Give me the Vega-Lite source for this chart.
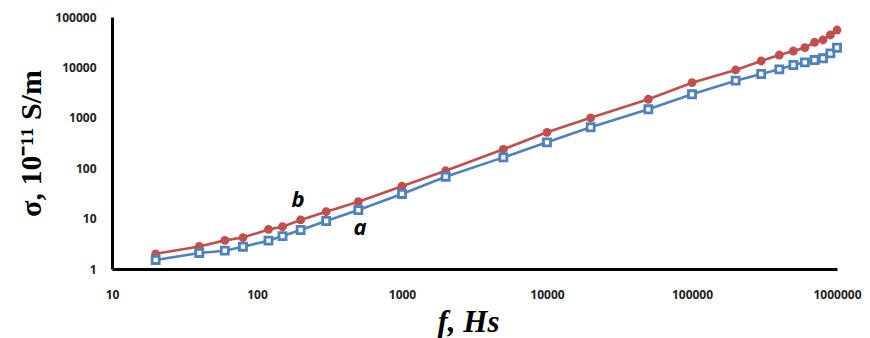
{
  "$schema": "https://vega.github.io/schema/vega-lite/v6.json",
  "width": 725,
  "height": 252,
  "autosize": "none",
  "padding": {"left": 112, "top": 17, "right": 33, "bottom": 69},
  "background": "white",
  "config": {"view": {"stroke": null}},
  "datasets": {
    "pts": [
      {"f": 20, "s": 2.0, "series": "b"}, {"f": 40, "s": 2.8, "series": "b"}, {"f": 60, "s": 3.7, "series": "b"}, {"f": 80, "s": 4.2, "series": "b"},
      {"f": 120, "s": 6.1, "series": "b"}, {"f": 150, "s": 6.9, "series": "b"}, {"f": 200, "s": 9.4, "series": "b"}, {"f": 300, "s": 13.7, "series": "b"},
      {"f": 500, "s": 21.6, "series": "b"}, {"f": 1000, "s": 44, "series": "b"}, {"f": 2000, "s": 89, "series": "b"}, {"f": 5000, "s": 237, "series": "b"},
      {"f": 10000, "s": 515, "series": "b"}, {"f": 20000, "s": 1000, "series": "b"}, {"f": 50000, "s": 2330, "series": "b"}, {"f": 100000, "s": 4970, "series": "b"},
      {"f": 200000, "s": 8880, "series": "b"}, {"f": 300000, "s": 13400, "series": "b"}, {"f": 400000, "s": 17600, "series": "b"}, {"f": 500000, "s": 21150, "series": "b"},
      {"f": 600000, "s": 24600, "series": "b"}, {"f": 700000, "s": 31500, "series": "b"}, {"f": 800000, "s": 35000, "series": "b"}, {"f": 900000, "s": 44000, "series": "b"},
      {"f": 1000000, "s": 55200, "series": "b"},
      {"f": 20, "s": 1.51, "series": "a"}, {"f": 40, "s": 2.08, "series": "a"}, {"f": 60, "s": 2.31, "series": "a"}, {"f": 80, "s": 2.77, "series": "a"},
      {"f": 120, "s": 3.65, "series": "a"}, {"f": 150, "s": 4.5, "series": "a"}, {"f": 200, "s": 5.94, "series": "a"}, {"f": 300, "s": 8.96, "series": "a"},
      {"f": 500, "s": 14.8, "series": "a"}, {"f": 1000, "s": 30.8, "series": "a"}, {"f": 2000, "s": 67.7, "series": "a"}, {"f": 5000, "s": 164, "series": "a"},
      {"f": 10000, "s": 326, "series": "a"}, {"f": 20000, "s": 648, "series": "a"}, {"f": 50000, "s": 1474, "series": "a"}, {"f": 100000, "s": 2925, "series": "a"},
      {"f": 200000, "s": 5450, "series": "a"}, {"f": 300000, "s": 7400, "series": "a"}, {"f": 400000, "s": 9160, "series": "a"}, {"f": 500000, "s": 11160, "series": "a"},
      {"f": 600000, "s": 12600, "series": "a"}, {"f": 700000, "s": 14000, "series": "a"}, {"f": 800000, "s": 15150, "series": "a"}, {"f": 900000, "s": 19000, "series": "a"},
      {"f": 1000000, "s": 24600, "series": "a"}
    ],
    "labels": [
      {"f": 192, "s": 23.4, "text": "b"},
      {"f": 513, "s": 6.5, "text": "a"}
    ]
  },
  "layer": [
    {
      "data": {"name": "pts"},
      "mark": {"type": "line", "strokeWidth": 2.6},
      "encoding": {
        "x": {
          "field": "f", "type": "quantitative",
          "scale": {"type": "log", "domain": [10, 1000000], "nice": false},
          "axis": {
            "values": [10, 100, 1000, 10000, 100000, 1000000],
            "format": "d",
            "ticks": false, "grid": false,
            "domainColor": "black", "domainWidth": 3,
            "labelFlush": false,
            "labelFont": "Open Sans", "labelFontWeight": "bold", "labelFontSize": 12, "labelColor": "#222222",
            "labelPadding": 20,
            "title": "f, Hs",
            "titleFont": "Liberation Serif", "titleFontSize": 31, "titleFontStyle": "italic", "titleFontWeight": "bold", "titleColor": "black",
            "titleX": 356, "titleY": 38
          }
        },
        "y": {
          "field": "s", "type": "quantitative",
          "scale": {"type": "log", "domain": [1, 100000], "nice": false},
          "axis": {
            "values": [1, 10, 100, 1000, 10000, 100000],
            "format": "d",
            "ticks": false, "grid": false,
            "domainColor": "black", "domainWidth": 3,
            "labelFont": "Open Sans", "labelFontWeight": "bold", "labelFontSize": 12, "labelColor": "#222222",
            "labelPadding": 16,
            "title": "σ, 10⁻¹¹ S/m",
            "titleFont": "Liberation Serif", "titleFontSize": 30, "titleFontWeight": "bold", "titleColor": "black",
            "titlePadding": 8,
            "titleY": 126
          }
        },
        "color": {"field": "series", "type": "nominal", "scale": {"domain": ["a", "b"], "range": ["#4F81BD", "#C0504D"]}, "legend": null}
      }
    },
    {
      "data": {"name": "pts"},
      "transform": [{"filter": "datum.series === 'b'"}],
      "mark": {"type": "point", "shape": "circle", "filled": true, "size": 78, "color": "#C0504D", "opacity": 1},
      "encoding": {
        "x": {"field": "f", "type": "quantitative"},
        "y": {"field": "s", "type": "quantitative"}
      }
    },
    {
      "data": {"name": "pts"},
      "transform": [{"filter": "datum.series === 'a'"}],
      "mark": {"type": "point", "shape": "square", "filled": true, "fill": "white", "stroke": "#4F81BD", "strokeWidth": 2.8, "size": 50, "opacity": 1},
      "encoding": {
        "x": {"field": "f", "type": "quantitative"},
        "y": {"field": "s", "type": "quantitative"}
      }
    },
    {
      "data": {"name": "labels"},
      "mark": {"type": "text", "font": "Open Sans", "fontSize": 22, "fontStyle": "italic", "fontWeight": "bold", "color": "black", "baseline": "middle", "align": "center"},
      "encoding": {
        "x": {"field": "f", "type": "quantitative"},
        "y": {"field": "s", "type": "quantitative"},
        "text": {"field": "text"}
      }
    }
  ]
}
